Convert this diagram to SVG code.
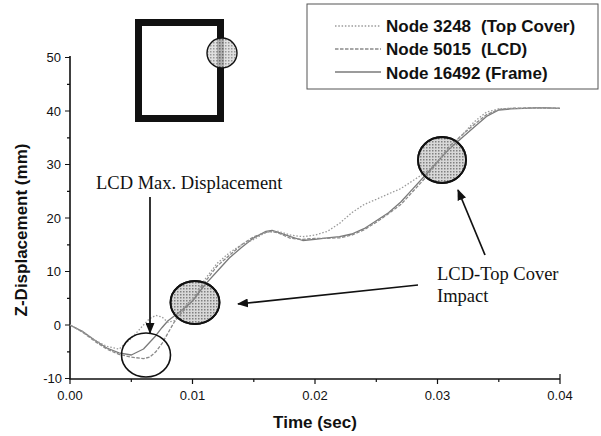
<svg xmlns="http://www.w3.org/2000/svg" width="601" height="436" viewBox="0 0 601 436">
<style>
.ax{stroke:#111;fill:none;stroke-width:1.6}
.tk{stroke:#111;fill:none;stroke-width:1.2}
.tl{font-family:"Liberation Sans",Arial,sans-serif;font-size:13px;fill:#111}
.tt{font-family:"Liberation Sans",Arial,sans-serif;font-size:17px;font-weight:bold;fill:#111}
.lg{font-family:"Liberation Sans",Arial,sans-serif;font-size:17px;font-weight:bold;fill:#111}
.an{font-family:"Liberation Serif","Times New Roman",serif;font-size:18.5px;fill:#111}
.c-top{fill:none;stroke:#9a9a9a;stroke-width:1.3;stroke-dasharray:1.5 1.8;stroke-linejoin:round}
.c-lcd{fill:none;stroke:#8a8a8a;stroke-width:1.3;stroke-dasharray:3.5 1.5;stroke-linejoin:round}
.c-frm{fill:none;stroke:#7a7a7a;stroke-width:1.3;stroke-linejoin:round}
.hat{fill:url(#stip);stroke:#111;stroke-width:1.8}
.ring{fill:none;stroke:#111;stroke-width:1.6}
.arr{stroke:#111;stroke-width:1.7;fill:none;marker-end:url(#ah)}
</style>
<defs>
<pattern id="stip" width="3" height="3" patternUnits="userSpaceOnUse">
<rect width="3" height="3" fill="#d8d8d8"/>
<rect width="1.5" height="1.5" fill="#808080"/>
</pattern>
<marker id="ah" markerWidth="11" markerHeight="9" refX="10" refY="4.5" orient="auto" markerUnits="userSpaceOnUse">
<path d="M0,0 L11,4.5 L0,9 z" fill="#111"/>
</marker>
</defs>
<rect width="601" height="436" fill="#fff"/>

<g id="axes">
<path class="ax" d="M70,56 V379 H560"/>
<path class="tk" d="M65,57.5 H70 M65,111 H70 M65,164.5 H70 M65,218 H70 M65,271.5 H70 M65,325 H70 M65,378.5 H70"/>
<path class="tk" d="M67,84.3 H70 M67,137.8 H70 M67,191.3 H70 M67,244.8 H70 M67,298.3 H70 M67,351.8 H70"/>
<path class="tk" d="M70,379 V384 M192.5,379 V384 M315,379 V384 M437.5,379 V384 M560,379 V384 M560,379 V374"/>
<path class="tk" d="M131.3,379 V382 M253.8,379 V382 M376.3,379 V382 M498.8,379 V382"/>
<g class="tl" text-anchor="end">
<text x="61" y="62">50</text>
<text x="61" y="115.5">40</text>
<text x="61" y="169">30</text>
<text x="61" y="222.5">20</text>
<text x="61" y="276">10</text>
<text x="61" y="329.5">0</text>
<text x="62" y="383">-10</text>
</g>
<g class="tl" text-anchor="middle">
<text x="70" y="400">0.00</text>
<text x="192.5" y="400">0.01</text>
<text x="315" y="400">0.02</text>
<text x="437.5" y="400">0.03</text>
<text x="560" y="400">0.04</text>
</g>
<text class="tt" x="315" y="428" text-anchor="middle">Time (sec)</text>
<text class="tt" transform="translate(27,230) rotate(-90)" text-anchor="middle">Z-Displacement (mm)</text>
</g>

<g id="inset">
<rect x="138.5" y="22.5" width="82" height="96" fill="none" stroke="#111" stroke-width="7"/>
<circle cx="222" cy="53" r="15" fill="url(#stip)" fill-opacity="0.8" stroke="#111" stroke-width="1.4"/>
</g>

<g id="legend">
<rect x="307" y="4" width="291" height="85" fill="#fff" stroke="#555" stroke-width="1"/>
<line x1="335" y1="26" x2="381" y2="26" class="c-top"/>
<line x1="335" y1="49" x2="381" y2="49" class="c-lcd"/>
<line x1="335" y1="72" x2="381" y2="72" class="c-frm"/>
<text class="lg" x="386" y="31.5">Node 3248<tspan x="481">(Top Cover)</tspan></text>
<text class="lg" x="386" y="55">Node 5015<tspan x="481">(LCD)</tspan></text>
<text class="lg" x="386" y="78.5">Node 16492 (Frame)</text>
</g>

<g id="highlights">
<ellipse id="impact1" cx="195" cy="302.5" rx="24.5" ry="21.5" class="hat"/>
<ellipse id="impact2" cx="442" cy="160" rx="24" ry="23" class="hat"/>
</g>

<g id="curves">
<polyline id="frame" class="c-frm" points="70,325 82.3,331.4 94.5,340 106.8,348 119,352.8 131.3,355 143.5,349 155.8,335.7 161.9,327.7 168,320.7 180.3,311.6 192.5,301 204.8,284.9 217,271.5 229.3,258 241.5,247.4 253.8,237.8 266,231.4 272.1,230.3 278.3,232.4 290.5,236.7 302.8,240.5 315,239.4 327.3,237.8 339.5,236.7 351.8,234 364,228.7 376.3,220.7 388.5,212.7 400.8,202 413,188.6 425.3,175.2 437.5,161.8 449.8,148.4 462,137.8 474.3,127 486.5,116.4 498.8,110 511,108.9 523.3,108.3 535.5,107.8 547.8,107.8 560,108.3"/>
<polyline id="lcd" class="c-lcd" points="70,325 82.3,332 94.5,341.1 106.8,349.1 119,354.4 131.3,357.1 143.5,358.7 149.6,357.1 155.8,351.8 161.9,343.7 168,333 174.1,322.3 180.3,314.3 192.5,300.9 204.8,282.2 217,266.2 229.3,255.5 241.5,244.8 253.8,236.7 266,232.4 272.1,231.4 278.3,233 290.5,238.3 302.8,239.4 315,238.3 327.3,238.3 339.5,237.8 351.8,235.1 364,229.8 376.3,222.3 388.5,213.7 400.8,204.6 413,191.3 425.3,177.9 437.5,161.8 449.8,145.8 462,135.1 474.3,124.4 486.5,114.7 498.8,109.4 511,108.3 535.5,107.8 560,108.3"/>
<polyline id="topcover" class="c-top" points="70,325 82.3,331.4 94.5,340 106.8,346.4 119,349.1 131.3,338.4 143.5,325 149.6,318.6 155.8,315.4 161.9,317 168,322.3 174.1,320.7 180.3,311.6 192.5,298.3 204.8,279.5 217,263.5 229.3,252.8 241.5,244.8 253.8,239.4 266,232.4 278.3,231.4 290.5,235.1 302.8,236.7 315,235.1 327.3,231.4 339.5,223.4 351.8,212.7 364,204.6 376.3,199.3 388.5,193.9 400.8,188.6 413,180.6 425.3,172.5 437.5,161.8 449.8,148.4 462,135.1 474.3,121.7 486.5,112.1 498.8,108.9 511,108.3 560,108.3"/>
</g>

<g id="max-disp">
<ellipse cx="146" cy="355" rx="24.5" ry="22" class="ring"/>
</g>
<g id="outline">
<ellipse cx="195" cy="302.5" rx="24.5" ry="21.5" fill="none" stroke="#111" stroke-width="1.8"/>
<ellipse cx="442" cy="160" rx="24" ry="23" fill="none" stroke="#111" stroke-width="1.8"/>
</g>

<g id="label-max">
<text class="an" x="96" y="189">LCD Max. Displacement</text>
</g>
<g id="label-impact">
<text class="an" x="437" y="280">LCD-Top Cover</text>
<text class="an" x="437" y="302">Impact</text>
</g>

<g id="connectors">
<line class="arr" x1="150" y1="197" x2="150" y2="333"/>
<line class="arr" x1="418" y1="285" x2="238" y2="304"/>
<line class="arr" x1="485" y1="255" x2="458" y2="190"/>
</g>
</svg>
